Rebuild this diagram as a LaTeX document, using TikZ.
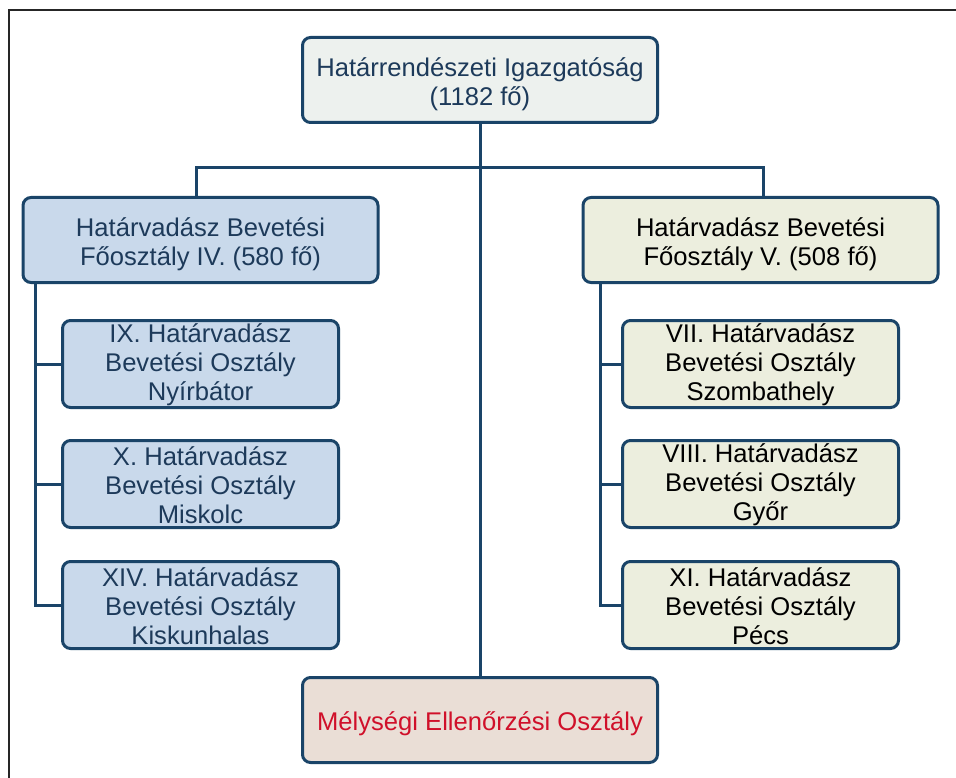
\documentclass[tikz,border=0pt]{standalone}
\usepackage{fontspec}
\setmainfont{Liberation Sans}
% taller first line: sets each text a little below its box centre
\newcommand\toplift{\rule{0pt}{26.5pt}}
\newcommand\sublift{\rule{0pt}{21pt}}
\begin{document}
\definecolor{edge}{HTML}{1A4468}
\definecolor{bluetext}{HTML}{1D3A5A}
\definecolor{topfill}{HTML}{EDF1EE}
\definecolor{leftfill}{HTML}{C9D9EB}
\definecolor{rightfill}{HTML}{ECEEDE}
\definecolor{basefill}{HTML}{EADED6}
\definecolor{redtext}{HTML}{D0102A}
\begin{tikzpicture}[x=1pt,y=-1pt,
  unit/.style={draw=edge, line width=3pt, rounded corners=8pt, inner sep=0pt,
    align=center, font=\fontsize{25.6}{29}\selectfont},
  head/.style={unit, minimum width=355pt, minimum height=85pt},
  sub/.style={unit, minimum width=276pt, minimum height=87pt},
  link/.style={draw=edge, line width=3pt}]
\useasboundingbox (0,0) rectangle (956,778);
% outer frame (only top and left edges fall inside the page)
\draw[line width=2pt, color=black!85] (8.5,778) -- (8.5,10.5) -- (956,10.5);

% boxes
\node[head, fill=topfill, text=bluetext] (hq) at (480,80)
  {\toplift Határrendészeti Igazgatóság\\(1182 fő)};
\node[head, fill=leftfill, text=bluetext] (d4) at (200.5,240)
  {\toplift Határvadász Bevetési\\Főosztály IV. (580 fő)};
\node[head, fill=rightfill, text=black] (d5) at (760.5,240)
  {\toplift Határvadász Bevetési\\Főosztály V. (508 fő)};
\node[head, fill=basefill, text=redtext] (me) at (480,720)
  {\toplift Mélységi Ellenőrzési Osztály};

\node[sub, fill=leftfill, text=bluetext] (o9) at (200.5,364)
  {\sublift IX. Határvadász\\Bevetési Osztály\\Nyírbátor};
\node[sub, fill=leftfill, text=bluetext] (o10) at (200.5,484)
  {\sublift X. Határvadász\\Bevetési Osztály\\Miskolc};
\node[sub, fill=leftfill, text=bluetext] (o14) at (200.5,605)
  {\sublift XIV. Határvadász\\Bevetési Osztály\\Kiskunhalas};

\node[sub, fill=rightfill, text=black] (o7) at (760.5,364)
  {\sublift VII. Határvadász\\Bevetési Osztály\\Szombathely};
\node[sub, fill=rightfill, text=black] (o8) at (760.5,484)
  {\sublift VIII. Határvadász\\Bevetési Osztály\\Győr};
\node[sub, fill=rightfill, text=black] (o11) at (760.5,605)
  {\sublift XI. Határvadász\\Bevetési Osztály\\Pécs};

% connectors
\coordinate (busL) at (196,168);
\coordinate (busR) at (763,168);
\coordinate (trunkL) at (35,0);
\coordinate (trunkR) at (600,0);

\path[link] (hq.south) -- (me.north);
\path[link] (busL |- d4.north) -- (busL) -- (busR) -- (busR |- d5.north);
\path[link] (trunkL |- d4.south) -- (trunkL |- o14.west) -- (o14.west);
\path[link] (trunkL |- o9.west) -- (o9.west);
\path[link] (trunkL |- o10.west) -- (o10.west);
\path[link] (trunkR |- d5.south) -- (trunkR |- o11.west) -- (o11.west);
\path[link] (trunkR |- o7.west) -- (o7.west);
\path[link] (trunkR |- o8.west) -- (o8.west);
\end{tikzpicture}
\end{document}
